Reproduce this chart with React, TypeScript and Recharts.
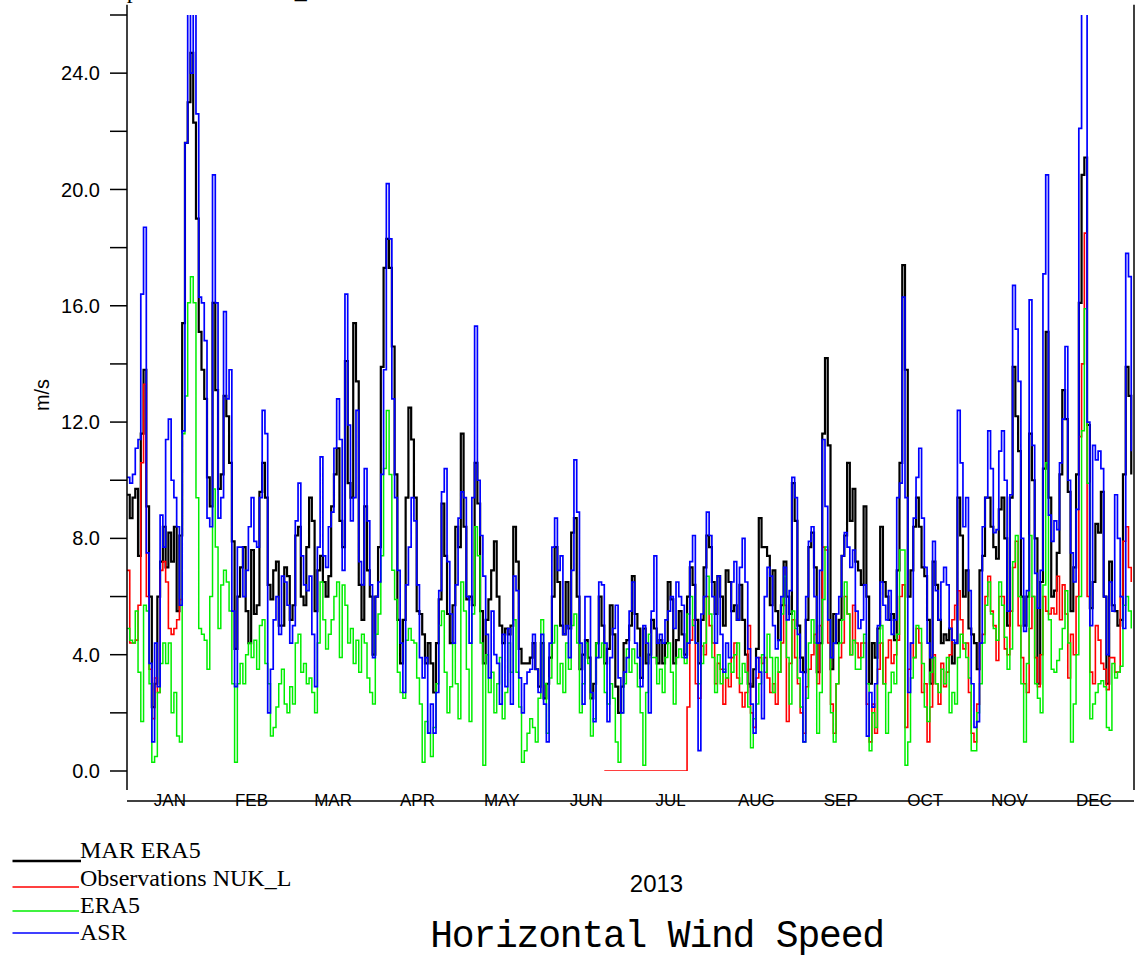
import React from 'react';
import { LineChart, Line, XAxis, YAxis, Legend, ReferenceLine } from 'recharts';

// ---------- categories / ticks ----------
const MONTH_NAMES = ['JAN', 'FEB', 'MAR', 'APR', 'MAY', 'JUN', 'JUL', 'AUG', 'SEP', 'OCT', 'NOV', 'DEC'];
const MONTH_STARTS = [0, 31, 59, 90, 120, 151, 181, 212, 243, 273, 304, 334, 365];
const MONTH_MIDS = [15.5, 45, 74.5, 105, 135.5, 166, 196.5, 227.5, 258, 288.5, 319, 349.5];
const Y_TICKS = [0, 2, 4, 6, 8, 10, 12, 14, 16, 18, 20, 22, 24, 26];
const YEAR_LABEL = '2013';
const CHART_TITLE = 'Horizontal Wind Speed';
const Y_LABEL = 'm/s';
const PAGE_HEADING = 'Comparison site NUK_L';

// ---------- daily series (day 0 = 1 Jan 2013) ----------
const MAR_ERA5 = [
  9.5, 8.7, 9.4, 9.7, 7.4, 11.6, 13.8, 9.1, 6.0, 2.2,
  3.0, 6.0, 7.2, 8.4, 7.0, 8.2, 7.2, 8.4, 5.5, 8.1,
  15.4, 21.6, 23.0, 24.7, 22.3, 19.0, 15.1, 13.8, 12.8, 10.1,
  9.1, 16.1, 13.1, 9.7, 10.2, 12.9, 12.2, 10.6, 7.9, 4.2,
  6.0, 7.0, 7.7, 5.5, 4.4, 7.6, 5.4, 5.7, 9.6, 10.6,
  9.4, 6.4, 5.9, 6.9, 7.2, 5.0, 5.0, 7.0, 6.7, 5.2,
  5.7, 8.1, 8.4, 6.0, 5.7, 7.7, 9.4, 8.6, 5.5, 6.9,
  7.4, 6.5, 6.0, 6.7, 9.1, 10.2, 11.1, 8.6, 7.7, 14.1,
  9.9, 9.4, 15.4, 13.4, 6.4, 5.2, 9.1, 6.9, 6.0, 4.0,
  6.0, 7.7, 13.9, 17.3, 18.3, 17.3, 14.6, 10.2, 5.2, 3.7,
  5.2, 9.4, 12.5, 11.4, 9.4, 5.5, 5.4, 4.7, 3.7, 4.4,
  3.7, 2.7, 4.4, 5.9, 9.2, 7.4, 5.4, 4.4, 5.7, 8.4,
  7.7, 11.6, 8.4, 5.9, 6.0, 5.7, 10.6, 9.2, 5.5, 3.7,
  5.2, 5.9, 6.9, 7.9, 6.0, 5.0, 4.4, 4.9, 4.7, 5.0,
  8.4, 7.2, 4.2, 3.7, 3.7, 3.7, 3.9, 4.4, 3.5, 2.9,
  4.4, 2.5, 3.0, 3.9, 6.0, 7.7, 6.5, 5.0, 4.7, 6.5,
  4.9, 8.2, 8.7, 6.0, 3.5, 4.0, 4.5, 3.9, 2.5, 3.0,
  4.4, 6.0, 5.0, 3.7, 4.2, 5.7, 4.7, 2.9, 2.0, 2.9,
  4.4, 4.5, 5.0, 6.7, 5.4, 4.9, 3.2, 4.9, 3.7, 4.0,
  5.2, 4.9, 3.7, 4.5, 3.7, 4.4, 6.5, 5.9, 3.7, 4.5,
  5.5, 4.7, 4.0, 6.0, 7.0, 6.4, 5.2, 3.7, 5.2, 7.0,
  8.1, 7.7, 6.5, 5.4, 6.7, 6.0, 5.0, 6.9, 6.5, 5.5,
  5.7, 5.2, 6.4, 5.2, 4.0, 3.0, 2.9, 3.5, 4.2, 8.7,
  7.7, 7.7, 7.4, 5.7, 6.9, 5.5, 4.5, 5.7, 7.2, 6.0,
  5.4, 9.9, 8.6, 5.0, 3.9, 3.4, 5.2, 7.7, 8.2, 7.0,
  3.4, 4.4, 11.6, 14.2, 11.2, 3.5, 5.4, 4.4, 5.2, 7.4,
  8.1, 10.6, 8.6, 9.7, 7.2, 6.9, 6.4, 9.1, 6.0, 3.0,
  4.4, 3.9, 4.9, 8.4, 6.5, 6.0, 5.2, 5.4, 4.5, 6.9,
  10.6, 17.4, 13.8, 6.0, 6.9, 8.4, 9.4, 8.4, 7.0, 6.7,
  5.2, 3.0, 7.2, 6.4, 5.2, 4.4, 4.7, 4.5, 4.9, 3.7,
  4.4, 9.4, 8.1, 6.0, 6.9, 4.9, 4.7, 4.4, 3.5, 6.9,
  7.4, 9.4, 9.4, 8.4, 7.7, 7.3, 9.0, 9.4, 8.0, 5.0,
  9.4, 13.9, 12.2, 11.0, 6.0, 5.0, 6.0, 11.6, 10.0, 8.0,
  3.0, 6.5, 10.4, 15.1, 9.4, 6.0, 6.2, 7.5, 10.2, 13.1,
  12.1, 9.6, 5.5, 7.0, 10.2, 16.1, 20.5, 21.1, 11.9, 5.6,
  6.5, 8.5, 8.2, 9.6, 6.0, 3.0, 7.2, 5.7, 5.5, 5.0,
  5.2, 10.2, 13.9, 12.9, 10.2,
];

const ASR = [
  10.1, 9.9, 10.2, 11.1, 11.4, 16.4, 18.7, 7.5, 3.7, 1.0,
  4.4, 2.9, 8.8, 7.7, 11.4, 12.1, 10.0, 9.4, 8.4, 5.7,
  11.7, 21.6, 27.0, 24.0, 27.0, 22.6, 16.3, 16.1, 14.8, 8.7,
  8.4, 20.5, 16.1, 8.7, 9.4, 15.8, 12.8, 13.8, 5.5, 2.9,
  7.7, 7.7, 6.0, 6.9, 8.4, 9.4, 7.9, 7.7, 9.4, 12.4,
  11.6, 2.0, 3.5, 5.2, 6.0, 4.7, 6.7, 6.5, 5.7, 4.4,
  5.0, 8.6, 9.9, 7.4, 6.4, 6.2, 6.7, 4.7, 2.9, 7.7,
  10.8, 7.4, 7.0, 8.4, 8.9, 11.1, 12.8, 11.4, 6.9, 16.4,
  11.9, 8.6, 9.4, 12.4, 7.2, 6.4, 10.4, 8.6, 6.4, 3.9,
  6.0, 6.5, 10.2, 13.8, 20.2, 18.3, 12.8, 9.4, 6.9, 4.4,
  2.7, 6.4, 7.7, 9.4, 8.6, 6.4, 3.9, 3.2, 3.9, 1.3,
  2.3, 1.3, 2.7, 6.2, 9.6, 10.4, 7.2, 5.4, 4.4, 6.4,
  8.7, 9.6, 9.4, 6.0, 4.4, 9.4, 15.3, 10.0, 8.1, 6.7,
  4.7, 3.2, 5.5, 4.0, 3.7, 2.3, 4.7, 2.9, 4.9, 2.3,
  6.7, 6.2, 3.2, 2.0, 3.0, 3.4, 3.5, 4.7, 3.5, 2.7,
  4.7, 2.3, 1.0, 4.4, 7.7, 8.7, 6.9, 7.4, 4.7, 5.0,
  3.9, 6.9, 10.7, 8.9, 4.4, 2.3, 6.0, 6.0, 2.7, 1.7,
  3.9, 6.5, 6.4, 4.4, 1.7, 3.9, 4.9, 5.7, 3.2, 2.0,
  3.4, 3.9, 5.5, 6.5, 4.4, 3.9, 2.9, 5.0, 4.4, 2.0,
  5.5, 7.4, 4.4, 4.7, 4.4, 5.2, 5.5, 6.0, 4.9, 6.5,
  6.0, 5.7, 3.9, 4.4, 7.2, 8.1, 4.4, 0.7, 5.4, 6.0,
  8.9, 8.1, 6.0, 4.4, 6.7, 4.7, 3.4, 4.4, 3.9, 6.5,
  7.2, 5.2, 7.0, 8.0, 6.5, 4.2, 2.3, 1.3, 3.9, 3.4,
  1.8, 6.0, 7.0, 6.7, 5.0, 4.2, 4.5, 6.0, 7.0, 5.2,
  6.2, 10.1, 9.4, 4.7, 3.4, 1.0, 6.0, 7.9, 8.4, 6.0,
  4.4, 6.9, 11.4, 9.1, 5.2, 3.9, 4.4, 5.4, 6.0, 7.4,
  8.2, 7.7, 7.0, 7.6, 5.5, 4.9, 5.2, 6.4, 1.2, 2.7,
  2.2, 3.0, 5.0, 6.5, 5.7, 5.2, 6.2, 4.7, 5.2, 9.4,
  9.9, 16.3, 9.4, 2.7, 4.4, 8.7, 10.1, 11.1, 8.7, 7.0,
  4.4, 3.9, 7.9, 6.2, 5.2, 6.5, 7.0, 6.4, 4.9, 4.5,
  4.4, 12.4, 10.6, 8.4, 9.4, 6.2, 3.0, 1.5, 1.7, 4.4,
  8.4, 9.4, 11.7, 10.4, 8.2, 8.3, 11.0, 11.7, 10.0, 5.5,
  9.5, 16.7, 15.2, 13.4, 8.0, 4.8, 6.2, 16.2, 11.2, 6.8,
  5.6, 6.9, 17.1, 20.5, 8.8, 7.9, 8.6, 8.3, 10.6, 12.1,
  14.6, 10.0, 7.5, 6.5, 9.0, 22.1, 27.0, 26.8, 12.0, 5.0,
  11.2, 10.7, 11.0, 10.4, 6.0, 4.0, 6.5, 5.5, 9.5, 8.0,
  6.0, 4.9, 17.8, 17.0, 11.0,
];

const ERA5 = [
  4.9, 4.5, 4.4, 5.5, 3.4, 1.7, 5.7, 5.5, 3.0, 0.3,
  0.5, 2.7, 3.7, 4.4, 3.7, 4.4, 2.0, 2.7, 1.2, 1.0,
  11.6, 12.9, 16.1, 17.0, 16.1, 9.4, 4.9, 4.7, 4.5, 3.5,
  6.0, 9.7, 7.7, 4.9, 6.4, 6.9, 6.5, 5.5, 3.0, 0.3,
  3.0, 3.7, 3.0, 4.0, 4.4, 3.9, 4.5, 3.5, 5.0, 5.2,
  3.7, 3.0, 1.2, 1.5, 2.2, 3.0, 3.5, 2.3, 2.0, 2.9,
  2.3, 4.4, 4.7, 3.4, 3.7, 3.0, 3.2, 2.7, 2.0, 4.4,
  6.5, 5.2, 4.2, 4.7, 5.2, 6.0, 6.5, 3.9, 6.4, 5.7,
  4.4, 4.9, 3.7, 4.5, 3.4, 4.7, 4.4, 3.2, 2.7, 2.3,
  4.7, 5.4, 7.4, 10.4, 12.4, 10.2, 6.9, 5.9, 3.4, 2.7,
  2.5, 4.5, 4.9, 4.5, 4.4, 3.2, 2.3, 0.3, 1.7, 1.3,
  0.5, 1.5, 3.0, 5.0, 5.5, 3.4, 2.0, 2.9, 4.4, 3.0,
  1.8, 6.5, 5.5, 3.5, 1.7, 5.4, 8.4, 7.4, 4.4, 0.2,
  4.0, 2.7, 3.4, 2.0, 3.0, 3.9, 1.8, 2.7, 4.4, 3.4,
  5.2, 3.4, 2.2, 0.3, 0.7, 1.3, 1.8, 1.5, 1.0, 2.5,
  5.2, 3.0, 1.3, 3.2, 4.4, 5.0, 3.0, 3.7, 2.7, 4.4,
  3.5, 5.0, 5.4, 4.4, 2.0, 3.0, 4.4, 3.7, 1.2, 1.8,
  4.4, 3.9, 4.4, 2.7, 2.3, 3.0, 2.5, 1.0, 0.3, 2.0,
  3.0, 4.2, 3.4, 4.2, 3.7, 2.9, 2.0, 0.2, 2.7, 4.7,
  3.9, 3.9, 3.0, 3.5, 2.7, 3.9, 4.4, 3.4, 2.3, 3.9,
  4.2, 3.9, 3.7, 5.4, 6.0, 5.0, 4.4, 3.0, 3.7, 4.4,
  6.7, 5.4, 3.9, 2.7, 4.0, 3.0, 3.5, 3.2, 3.7, 3.4,
  4.0, 4.4, 3.0, 3.7, 3.4, 2.2, 0.8, 1.8, 2.3, 3.0,
  4.0, 3.4, 4.7, 3.9, 2.7, 3.9, 3.4, 5.4, 6.7, 3.9,
  2.3, 5.5, 4.9, 3.2, 2.2, 1.0, 2.5, 4.4, 5.2, 4.4,
  1.3, 2.7, 5.9, 7.7, 5.2, 2.0, 1.0, 3.0, 4.4, 5.2,
  6.5, 5.4, 4.0, 4.5, 3.5, 3.5, 3.9, 4.7, 3.0, 0.7,
  2.0, 1.5, 4.4, 5.0, 3.0, 1.3, 2.7, 3.4, 3.0, 4.7,
  7.6, 7.6, 0.2, 1.0, 3.2, 3.9, 5.0, 4.9, 3.7, 2.2,
  1.7, 3.4, 3.9, 3.0, 2.7, 3.5, 3.0, 3.9, 2.0, 2.7,
  2.3, 3.9, 4.7, 4.4, 3.9, 3.2, 0.7, 0.7, 2.0, 3.0,
  4.4, 5.7, 6.5, 5.4, 4.9, 4.5, 6.5, 5.7, 4.6, 3.5,
  4.2, 7.2, 8.1, 6.0, 3.0, 1.0, 3.7, 8.1, 6.0, 3.0,
  2.5, 2.0, 6.4, 10.6, 5.2, 3.5, 3.4, 3.8, 4.2, 4.9,
  6.2, 4.4, 1.0, 2.3, 4.0, 6.0, 11.7, 15.9, 9.9, 1.8,
  2.3, 2.7, 3.0, 3.1, 2.9, 1.5, 1.4, 3.7, 3.2, 3.4,
  3.6, 5.7, 6.0, 5.5, 4.9,
];

// Observations: days 0-20, then missing, then from day 173 to the end
const OBS_JAN = [6.9, 4.4, 4.4, 4.5, 5.7, 10.6, 13.3, 6.0, 3.5, 1.8, 3.2, 2.7, 6.9, 7.2, 6.5, 4.9, 4.7, 4.9, 5.2, 5.9, 11.6];
const OBS_LATE_START = 173;
const OBS_LATE = [
  0, 0, 0, 0, 0, 0, 0, 0, 0, 0,
  0, 0, 0, 0, 0, 0, 0, 0, 0, 0,
  0, 0, 0, 0, 0, 0, 0, 0, 0, 0,
  2.2, 4.5, 5.2, 3.0, 2.5, 4.3, 4.0, 6.0, 5.0, 4.4,
  3.0, 3.7, 3.5, 2.3, 3.2, 2.9, 3.9, 4.4, 3.2, 2.7,
  2.2, 2.7, 5.0, 2.0, 1.5, 3.2, 3.9, 3.7, 3.9, 3.2,
  2.7, 3.0, 2.3, 3.4, 4.4, 5.7, 1.7, 3.7, 5.2, 3.9,
  3.0, 2.0, 1.3, 2.9, 3.5, 4.0, 4.7, 3.0, 5.0, 7.7,
  7.6, 4.4, 2.3, 1.3, 3.0, 3.9, 4.4, 6.0, 5.4, 4.0,
  5.7, 4.4, 3.9, 4.4, 4.4, 2.3, 1.0, 2.3, 1.3, 3.5,
  4.4, 3.0, 3.9, 4.5, 3.7, 4.0, 4.5, 6.0, 6.4, 1.5,
  3.5, 4.4, 3.9, 4.9, 4.4, 2.7, 3.0, 1.0, 2.2, 4.0,
  3.0, 2.3, 3.7, 2.9, 3.4, 4.0, 5.2, 5.7, 6.2, 5.2,
  4.2, 4.4, 2.7, 1.3, 1.0, 2.3, 4.4, 4.7, 6.0, 6.7,
  5.5, 5.0, 3.8, 6.0, 6.0, 4.2, 4.0, 5.5, 7.0, 7.9,
  5.0, 3.9, 3.0, 2.7, 4.9, 6.0, 3.9, 2.9, 4.0, 6.0,
  5.5, 5.4, 5.6, 5.4, 6.7, 5.2, 6.4, 5.4, 3.2, 4.7,
  4.0, 6.0, 11.5, 14.0, 18.5, 6.0, 3.4, 3.0, 5.0, 4.5,
  3.7, 3.5, 2.8, 3.9, 3.9, 3.4, 3.4, 6.0, 7.9, 8.4,
  7.0, 6.5,
];

const SERIES = [
  { key: 'mar', name: 'MAR ERA5', color: '#000000', width: 2.2 },
  { key: 'obs', name: 'Observations NUK_L', color: '#ff0000', width: 1.6 },
  { key: 'era5', name: 'ERA5', color: '#00ee00', width: 1.5 },
  { key: 'asr', name: 'ASR', color: '#0000ff', width: 1.7 },
];

const data = MAR_ERA5.map((v, d) => ({
  day: d,
  mar: v,
  asr: ASR[d],
  era5: ERA5[d],
  obs: d < OBS_JAN.length ? OBS_JAN[d] : d >= OBS_LATE_START ? OBS_LATE[d - OBS_LATE_START] : null,
}));

const SANS = 'Liberation Sans, Arial, sans-serif';
const SERIF = 'Liberation Serif, Times New Roman, serif';

const LEG_LINE_Y = [31, 57, 81, 103];
const LEG_TEXT_Y = [27.5, 55.5, 82.5, 110];

const renderLegend = (props: any) => {
  const payload: any[] = props.payload || [];
  const ordered = SERIES.map((s) => payload.find((p) => p.dataKey === s.key || p.value === s.name) || { value: s.name, color: s.color });
  return (
    <svg width={330} height={125} style={{ display: 'block', overflow: 'visible' }}>
      {ordered.map((entry: any, i: number) => (
        <g key={i}>
          <line x1={12.5} x2={i === 0 ? 81 : 79} y1={LEG_LINE_Y[i]} y2={LEG_LINE_Y[i]} stroke={entry.color} strokeWidth={i === 0 ? 2.5 : 1.6} />
          <text x={80} y={LEG_TEXT_Y[i]} fontFamily={SERIF} fontSize={24} fill="#000">{entry.value}</text>
        </g>
      ))}
    </svg>
  );
};

const yTickFmt = (v: number) => (v % 4 === 0 ? v.toFixed(1) : '');
const monthFmt = (v: number) => MONTH_NAMES[MONTH_MIDS.indexOf(v)] || '';

export default function App() {
  return (
    <div style={{ position: 'absolute', left: 0, top: 0, width: 1143, height: 959, background: '#fff', overflow: 'hidden' }}>
      <LineChart width={1143} height={959} data={data} margin={{ top: 15, right: 1, bottom: 143, left: 0 }}>
        <XAxis
          xAxisId="m"
          dataKey="day"
          type="number"
          domain={[0, 365]}
          ticks={MONTH_STARTS}
          interval={0}
          tick={false}
          tickSize={10}
          height={15}
          axisLine={{ stroke: '#000', strokeWidth: 1.5 }}
          tickLine={{ stroke: '#000', strokeWidth: 1.5 }}
          allowDataOverflow
        />
        <XAxis
          xAxisId="lbl"
          type="number"
          domain={[0, 365]}
          ticks={MONTH_MIDS}
          interval={0}
          tickFormatter={monthFmt}
          axisLine={false}
          tickLine={false}
          tickSize={6}
          tickMargin={17}
          height={30}
          tick={{ fontFamily: SANS, fontSize: 17, fill: '#000' }}
        />
        <XAxis
          xAxisId="t"
          orientation="top"
          type="number"
          domain={[0, 365]}
          ticks={MONTH_STARTS}
          interval={0}
          tick={false}
          tickSize={7}
          height={0}
          axisLine={{ stroke: '#000', strokeWidth: 1.5 }}
          tickLine={{ stroke: '#000', strokeWidth: 1.5 }}
        />
        <YAxis
          yAxisId="l"
          type="number"
          domain={[0, 26]}
          ticks={Y_TICKS}
          interval={0}
          allowDataOverflow
          width={127}
          tickSize={17}
          tickMargin={10}
          tickFormatter={yTickFmt}
          tick={{ fontFamily: SANS, fontSize: 20, fill: '#000' }}
          axisLine={{ stroke: '#000', strokeWidth: 1.5 }}
          tickLine={{ stroke: '#000', strokeWidth: 1.5 }}
          label={{
            content: (p: any) => {
              const vb = p.viewBox || { x: 0, y: 15, height: 756 };
              const cx = vb.x + 42;
              const cy = vb.y + vb.height / 2 + 2;
              return (
                <text x={cx} y={cy} transform={`rotate(-90, ${cx}, ${cy})`} textAnchor="middle" dominantBaseline="central" fontFamily={SANS} fontSize={20} fill="#000">
                  {Y_LABEL}
                </text>
              );
            },
          }}
        />
        <YAxis
          yAxisId="r"
          orientation="right"
          type="number"
          domain={[0, 26]}
          ticks={Y_TICKS}
          interval={0}
          width={8}
          tickSize={8}
          tick={false}
          axisLine={{ stroke: '#000', strokeWidth: 1.5 }}
          tickLine={{ stroke: '#000', strokeWidth: 1.5 }}
        />
        <ReferenceLine xAxisId="m" yAxisId="l" segment={[{ x: 0, y: 0 }, { x: 0, y: -0.65 }]} stroke="#000" strokeWidth={1.5} ifOverflow="visible" />
        <ReferenceLine xAxisId="m" yAxisId="l" segment={[{ x: 0, y: 26 }, { x: 0, y: 26.35 }]} stroke="#000" strokeWidth={1.5} ifOverflow="visible" />
        <ReferenceLine xAxisId="m" yAxisId="l" segment={[{ x: 365, y: 0 }, { x: 365, y: -0.65 }]} stroke="#000" strokeWidth={1.5} ifOverflow="visible" />
        <ReferenceLine xAxisId="m" yAxisId="l" segment={[{ x: 365, y: 26 }, { x: 365, y: 26.35 }]} stroke="#000" strokeWidth={1.5} ifOverflow="visible" />
        {SERIES.map((s) => (
          <Line
            key={s.key}
            xAxisId="m"
            yAxisId="l"
            dataKey={s.key}
            name={s.name}
            type="stepAfter"
            stroke={s.color}
            strokeWidth={s.width}
            dot={false}
            activeDot={false}
            connectNulls={false}
            isAnimationActive={false}
          />
        ))}
        <Legend
          layout="vertical"
          align="center"
          verticalAlign="middle"
          content={renderLegend}
          wrapperStyle={{ left: 0, top: 830, width: 330, height: 125 }}
        />
      </LineChart>
      <svg width={1143} height={959} style={{ position: 'absolute', left: 0, top: 0, pointerEvents: 'none' }}>
        <text x={80} y={-2} fontFamily={SERIF} fontSize={24} fill="#000">{PAGE_HEADING}</text>
        <text x={656.5} y={892} textAnchor="middle" fontFamily={SANS} fontSize={24} fill="#000">{YEAR_LABEL}</text>
        <text x={657} y={947} textAnchor="middle" fontFamily="Liberation Mono, Courier New, monospace" fontSize={38} letterSpacing={-1.2} fill="#000">{CHART_TITLE}</text>
      </svg>
    </div>
  );
}
